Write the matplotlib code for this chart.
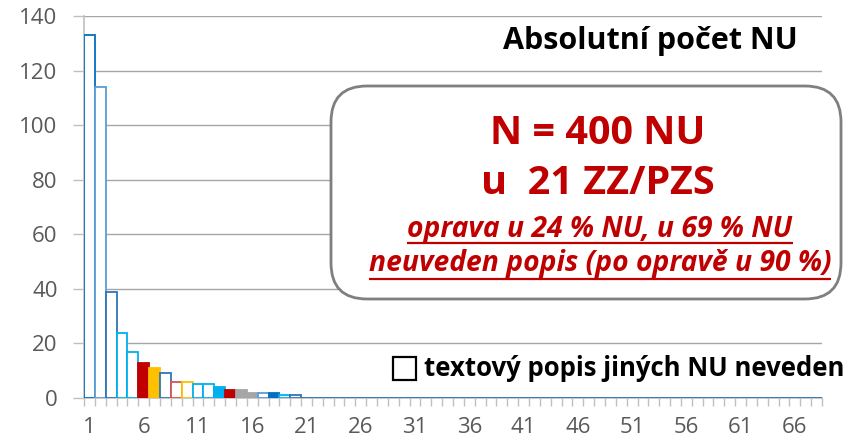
import matplotlib
matplotlib.use("Agg")
import matplotlib.pyplot as plt
from matplotlib.patches import FancyBboxPatch, Rectangle
import numpy as np

plt.rcParams['font.family'] = ['Open Sans', 'DejaVu Sans']

# ---- data ----
categories = list(range(1, 69))
values_nonzero = [133, 114, 39, 24, 17, 13, 11, 9, 6, 6, 5, 5, 4, 3, 3, 2, 2, 2, 1, 1]
values = values_nonzero + [0] * (len(categories) - len(values_nonzero))
xtick_labels = [str(v) for v in range(1, 67, 5)]
yticks = [0, 20, 40, 60, 80, 100, 120, 140]

# style per bar: (fill, edge)
BLUE = '#0070C0'; LBLUE = '#5B9BD5'; MBLUE = '#2E75B6'; CYAN = '#00B0F0'
RED = '#C00000'; YEL = '#FFC000'; GRAY = '#A6A6A6'; LRED = '#D9534F'
bar_styles = [
    ('white', BLUE), ('white', LBLUE), ('white', MBLUE), ('white', CYAN), ('white', CYAN),
    (RED, RED), (YEL, YEL), ('white', MBLUE), ('white', LRED), ('white', YEL),
    ('white', CYAN), ('white', CYAN), (CYAN, CYAN), (RED, RED), (GRAY, GRAY),
    (GRAY, GRAY), ('white', LBLUE), (BLUE, BLUE), ('white', CYAN), ('white', MBLUE),
]
bar_styles += [('white', MBLUE)] * (len(categories) - len(bar_styles))

W, H = 848, 441
fig = plt.figure(figsize=(W / 100, H / 100), dpi=100)
ax = fig.add_axes([84 / W, 1 - 398 / H, (822 - 84) / W, (398 - 16) / H])

fills = [s[0] for s in bar_styles]
edges = [s[1] for s in bar_styles]
ax.bar(categories, values, width=1.0, color=fills, edgecolor=edges, linewidth=1.3, zorder=3)

ax.set_xlim(0.5, len(categories) + 0.5)
ax.set_ylim(0, 140)
ax.set_yticks(yticks)
ax.set_xticks(list(range(1, 67, 5)))
ax.set_xticklabels(xtick_labels)
ax.set_xticks(np.arange(0.5, len(categories) + 1, 1.0), minor=True)
ax.tick_params(axis='x', which='major', length=0, pad=14, labelsize=16, labelcolor='#595959')
ax.tick_params(axis='x', which='minor', length=6, color='#BFBFBF', width=1)
ax.tick_params(axis='y', length=8, color='#BFBFBF', width=1, pad=11, labelsize=16, labelcolor='#595959')
ax.yaxis.grid(True, color='#A6A6A6', linewidth=1, zorder=0)
ax.set_axisbelow(True)
for s in ['top', 'right']:
    ax.spines[s].set_visible(False)
for s in ['left', 'bottom']:
    ax.spines[s].set_color('#BFBFBF')
    ax.spines[s].set_linewidth(1.2)

# ---- overlay in pixel coordinates ----
ov = fig.add_axes([0, 0, 1, 1], facecolor='none')
ov.set_xlim(0, W)
ov.set_ylim(H, 0)
ov.axis('off')

ov.text(650, 41, 'Absolutní počet NU', fontsize=22, fontweight='bold', color='black',
        ha='center', va='center')

box = FancyBboxPatch((331, 86), 510, 213, boxstyle='round,pad=0,rounding_size=36',
                     facecolor='white', edgecolor='#7F7F7F', linewidth=2, zorder=5)
ov.add_patch(box)

RED_T = '#C00000'
ov.text(598, 133, 'N = 400 NU', fontsize=28.5, fontweight='bold', color=RED_T,
        ha='center', va='center', zorder=6)
ov.text(598, 183, 'u  21 ZZ/PZS', fontsize=28.5, fontweight='bold', color=RED_T,
        ha='center', va='center', zorder=6)
t3 = ov.text(600, 230, 'oprava u 24 % NU, u 69 % NU', fontsize=20.3, fontweight='bold',
             fontstyle='italic', color=RED_T, ha='center', va='center', zorder=6)
t4 = ov.text(600, 264, 'neuveden popis (po opravě u 90 %)', fontsize=20.3, fontweight='bold',
             fontstyle='italic', color=RED_T, ha='center', va='center', zorder=6)

# legend
ov.add_patch(Rectangle((393, 357), 23, 23, facecolor='white', edgecolor='black', linewidth=1.6, zorder=6))
ov.text(424, 368, 'textový popis jiných NU neveden', fontsize=18.5, fontweight='bold',
        color='black', ha='left', va='center', zorder=6)

# underline
fig.canvas.draw()
r = fig.canvas.get_renderer()
inv = ov.transData.inverted()
for t, uy in [(t3, 243), (t4, 279)]:
    bb = t.get_window_extent(renderer=r)
    (x0, _), (x1, _) = inv.transform([(bb.x0, bb.y0), (bb.x1, bb.y1)])
    ov.plot([x0, x1], [uy, uy], color=RED_T, linewidth=1.6, zorder=6, solid_capstyle='butt')

fig.savefig('out.png', dpi=100)
